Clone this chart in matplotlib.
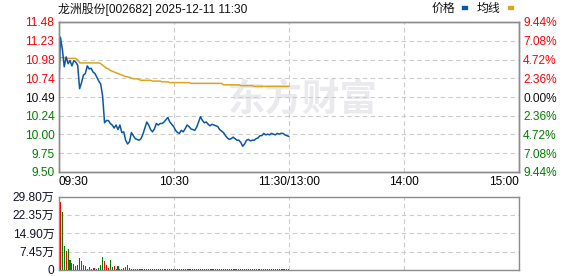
import numpy as np
import matplotlib
matplotlib.use("Agg")
import matplotlib.pyplot as plt

plt.rcParams['font.family'] = ['Liberation Sans', 'Noto Sans CJK SC', 'DejaVu Sans']

title = "龙洲股份[002682] 2025-12-11 11:30"

# minute-by-minute price (09:30 .. 11:30)
price = [10.47, 11.28, 11.12, 10.89, 11.02, 10.93, 10.97, 10.90, 10.97, 10.95,
         10.91, 10.60, 10.68, 10.78, 10.80, 10.90, 10.86, 10.87, 10.82, 10.80,
         10.75, 10.70, 10.66, 10.50, 10.15, 10.18, 10.18, 10.14, 10.12, 10.08,
         10.12, 10.06, 10.12, 10.02, 10.03, 9.92, 9.87, 9.90, 10.02, 9.98,
         9.94, 9.93, 9.92, 9.94, 10.00, 10.08, 10.16, 10.12, 10.06, 10.03,
         10.07, 10.14, 10.12, 10.14, 10.14, 10.16, 10.19, 10.22, 10.16, 10.13,
         10.10, 10.05, 10.02, 10.01, 10.05, 10.03, 10.07, 10.12, 10.10, 10.07,
         10.06, 10.05, 10.09, 10.16, 10.23, 10.18, 10.15, 10.16, 10.13, 10.11,
         10.13, 10.12, 10.11, 10.10, 10.06, 10.04, 10.02, 9.98, 9.95, 9.93,
         9.94, 9.96, 9.94, 9.92, 9.92, 9.89, 9.84, 9.87, 9.92, 9.93,
         9.91, 9.92, 9.92, 9.94, 9.95, 9.98, 9.98, 10.01, 9.99, 10.00,
         9.99, 10.01, 10.00, 9.99, 10.01, 10.00, 10.01, 10.01, 9.99, 9.98,
         9.97]

avg = [10.90, 11.01, 11.01, 11.01, 11.00, 11.00, 11.00, 11.00, 11.00, 11.00,
       10.98, 10.94, 10.94, 10.94, 10.94, 10.94, 10.94, 10.94, 10.94, 10.94,
       10.94, 10.94, 10.93, 10.91, 10.89, 10.87, 10.86, 10.84, 10.83, 10.82,
       10.81, 10.80, 10.79, 10.78, 10.77, 10.76, 10.755, 10.75, 10.74, 10.73,
       10.73, 10.73, 10.72, 10.71, 10.71, 10.71, 10.71, 10.71, 10.71, 10.70,
       10.70, 10.70, 10.70, 10.70, 10.69, 10.69, 10.69, 10.69, 10.68, 10.68,
       10.68, 10.68, 10.68, 10.68, 10.68, 10.68, 10.68, 10.68, 10.68, 10.67,
       10.67, 10.67, 10.67, 10.67, 10.67, 10.67, 10.67, 10.67, 10.67, 10.67,
       10.67, 10.67, 10.67, 10.67, 10.67, 10.67, 10.65, 10.65, 10.65, 10.65,
       10.65, 10.65, 10.65, 10.65, 10.65, 10.64, 10.64, 10.64, 10.64, 10.64,
       10.64, 10.64, 10.63, 10.63, 10.63, 10.63, 10.63, 10.63, 10.63, 10.63,
       10.63, 10.63, 10.63, 10.63, 10.63, 10.63, 10.63, 10.63, 10.63, 10.63,
       10.63]

# volume in 万 shares, one bar per minute from 09:31
volume = [27.6, 23.6, 9.7, 7.8, 8.5, 4.0, 2.8, 2.4, 1.6, 2.2,
          4.9, 3.6, 2.0, 1.6, 0.5, 1.2, 0.4, 0.8, 0.8, 0.5,
          0.9, 2.0, 5.2, 3.6, 2.0, 0.9, 4.0, 1.3, 1.6, 0.5,
          1.6, 0.5, 0.5, 0.7, 1.2, 2.0, 0.8, 0.4, 0.3, 0.3,
          0.3, 0.4, 0.3, 0.3, 0.3, 0.3, 0.4, 0.3, 0.3, 0.3,
          0.3, 0.3, 0.3, 0.3, 0.4, 0.3, 0.3, 0.3, 0.3, 0.3,
          0.3, 0.3, 0.4, 0.3, 0.3, 0.3, 0.3, 0.3, 0.3, 0.3,
          0.3, 0.4, 0.3, 0.3, 0.3, 0.3, 0.3, 0.3, 0.3, 0.3,
          0.3, 0.3, 0.3, 0.3, 0.3, 0.4, 0.3, 0.3, 0.3, 0.3,
          0.3, 0.3, 0.3, 0.3, 0.3, 0.3, 0.4, 0.3, 0.3, 0.3,
          0.3, 0.3, 0.3, 0.3, 0.3, 0.3, 0.3, 0.3, 0.3, 0.3,
          0.3, 0.3, 0.3, 0.3, 0.3, 0.3, 0.3, 0.3, 0.3, 0.3]
direction = ("rggrggrrgg" "grrrrgrgrr" "gggrrrggrg" "grrgggrrgg"
             "ggrrrrggrr" "rgggrrrggr" "rgggrrggrr" "rggrgrrrgg"
             "rrggrgrrgg" "grrgggrrrg" "grrgggrrgg" "rrggrrrggg")

price_ticks = [11.48, 11.23, 10.98, 10.74, 10.49, 10.24, 10.00, 9.75, 9.50]
pct_labels = ["9.44%", "7.08%", "4.72%", "2.36%", "0.00%", "2.36%", "4.72%", "7.08%", "9.44%"]
vol_ticks = [0, 7.45, 14.90, 22.35, 29.80]
vol_labels = ["0", "7.45万", "14.90万", "22.35万", "29.80万"]
time_pos = [0, 60, 120, 180, 240]
time_labels = ["09:30", "10:30", "11:30/13:00", "14:00", "15:00"]

RED = '#ff0000'
GREEN = '#008000'
BLUE = '#0b56a7'
ORANGE = '#e0a31c'
GRID = '#cccccc'
EDGE = '#8c8c8c'

W, H = 578, 276
fig = plt.figure(figsize=(W / 100, H / 100), dpi=100)

def box(x0, y0, x1, y1):
    return [x0 / W, 1 - y1 / H, (x1 - x0) / W, (y1 - y0) / H]

ax = fig.add_axes(box(58.5, 22, 519, 172))
vax = fig.add_axes(box(58.5, 196.5, 519, 270))

minutes = np.arange(len(price))

ax.text(0.53, 0.48, "东方财富", transform=ax.transAxes, ha='center', va='center',
        fontsize=27, fontweight='bold', color='#e9e9ee', family=['Noto Sans CJK SC'], zorder=0)
ax.plot(minutes, avg, color=ORANGE, lw=1.1, zorder=3)
ax.plot(minutes, price, color=BLUE, lw=1.1, zorder=4)

ax.set_xlim(0, 240)
ax.set_ylim(price_ticks[-1], price_ticks[0])
ax.set_yticks(price_ticks)
ax.set_yticklabels([f"{t:.2f}" for t in price_ticks], fontsize=8.6)
for i, lab in enumerate(ax.get_yticklabels()):
    lab.set_color(RED if i < 4 else ('#111111' if i == 4 else GREEN))

rax = ax.twinx()
rax.set_ylim(ax.get_ylim())
rax.set_yticks(price_ticks)
rax.set_yticklabels(pct_labels, fontsize=8.6)
for i, lab in enumerate(rax.get_yticklabels()):
    lab.set_color(RED if i < 4 else ('#111111' if i == 4 else GREEN))

ax.set_xticks(time_pos)
ax.set_xticklabels(time_labels, fontsize=8.6)
xl = ax.get_xticklabels()
xl[0].set_ha('left')
xl[-1].set_ha('right')

for a in (ax, rax, vax):
    a.tick_params(length=0, pad=3)
    for s in a.spines.values():
        s.set_color(EDGE)
        s.set_linewidth(1.0)
ax.grid(True, color=GRID, ls=(0, (4, 3)), lw=0.8)

vx = np.arange(1, len(volume) + 1)
vcol = [RED if d == 'r' else GREEN for d in direction]
vax.bar(vx, volume, width=0.55, color=vcol, zorder=3)
vax.set_xlim(0, 240)
vax.set_ylim(0, vol_ticks[-1])
vax.set_xticks(time_pos)
vax.set_xticklabels([])
vax.set_yticks(vol_ticks)
vax.set_yticklabels(vol_labels, fontsize=8.6, color='#111133')
vax.grid(True, color=GRID, ls=(0, (4, 3)), lw=0.8)

fig.text(58 / W, 1 - 9 / H, title, fontsize=8.6, va='center', ha='left', color='#111111')
fig.text(432 / W, 1 - 9 / H, "价格", fontsize=8.6, va='center', ha='left', color='#111111')
fig.text(477 / W, 1 - 9 / H, "均线", fontsize=8.6, va='center', ha='left', color='#111111')
fig.patches.append(plt.Rectangle((462 / W, 1 - 9 / H), 5 / W, 3 / H, color=BLUE, transform=fig.transFigure))
fig.patches.append(plt.Rectangle((508 / W, 1 - 9 / H), 5 / W, 3 / H, color=ORANGE, transform=fig.transFigure))

fig.savefig("out.png", dpi=100)
